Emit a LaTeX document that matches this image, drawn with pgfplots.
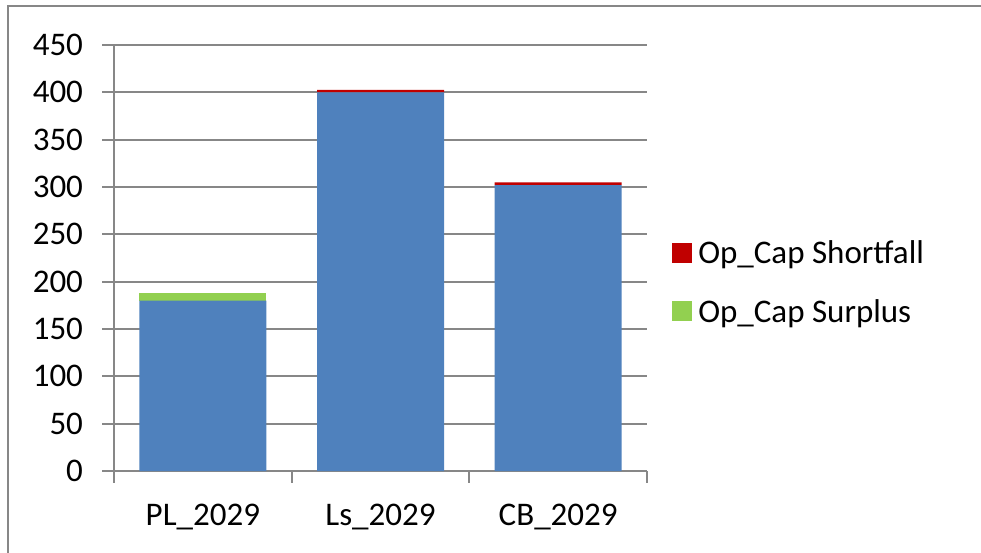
\documentclass[border=0pt]{standalone}
\usepackage{fontspec}
\setmainfont{Carlito}
\usepackage{pgfplots}
\pgfplotsset{compat=1.18}
\definecolor{cblue}{HTML}{4F81BD}
\definecolor{cred}{HTML}{C00000}
\definecolor{cgreen}{HTML}{92D050}
\definecolor{cgrid}{HTML}{878787}
\begin{document}
\begin{tikzpicture}[font=\fontsize{33}{39}\selectfont]
\begin{axis}[
  at={(114pt,81pt)}, anchor=south west,
  scale only axis, width=533pt, height=426pt,
  xmin=-0.5, xmax=2.5, ymin=0, ymax=450,
  ytick={0,50,...,450},
  ymajorgrids,
  grid style={cgrid, line width=2pt},
  axis x line*=bottom, axis y line*=left,
  axis line style={cgrid, line width=2pt},
  tick style={cgrid, line width=2pt},
  major tick length=11.5pt, tick align=outside,
  xtick={-0.5,0.5,1.5,2.5}, xticklabels={,,,},
  extra x ticks={0,1,2},
  extra x tick labels={PL\_2029,Ls\_2029,CB\_2029},
  extra x tick style={major tick length=0pt},
  /pgf/number format/assume math mode=true,
  yticklabel style={xshift=-16pt},
  xticklabel style={yshift=-30pt},
  ybar stacked, bar width=127pt,
  reverse legend,
  legend style={at={(1.047,0.443)}, anchor=west, draw=none, fill=none,
    inner sep=0pt, row sep=34pt, cells={anchor=west},
    nodes={inner sep=0pt, inner xsep=6pt}},
  legend cell align=left,
]
\addplot[fill=cblue, draw=none, forget plot] coordinates {(0,180) (1,400) (2,302)};
\addplot[fill=cgreen, draw=none, legend image code/.code={\fill[cgreen] (0pt,-10pt) rectangle (20pt,10pt);}] coordinates {(0,8.5) (1,0) (2,0)};
\addplot[fill=cred, draw=none, legend image code/.code={\fill[cred] (0pt,-10pt) rectangle (20pt,10pt);}] coordinates {(0,0) (1,2.5) (2,3)};
\legend{Op\_Cap Surplus, Op\_Cap Shortfall}
\end{axis}
\draw[cgrid, line width=2.5pt] (8pt,-20pt) -- (8pt,546pt) -- (1000pt,546pt);
\pgfresetboundingbox
\useasboundingbox (0pt,0pt) rectangle (981pt,552pt);
\end{tikzpicture}
\end{document}
